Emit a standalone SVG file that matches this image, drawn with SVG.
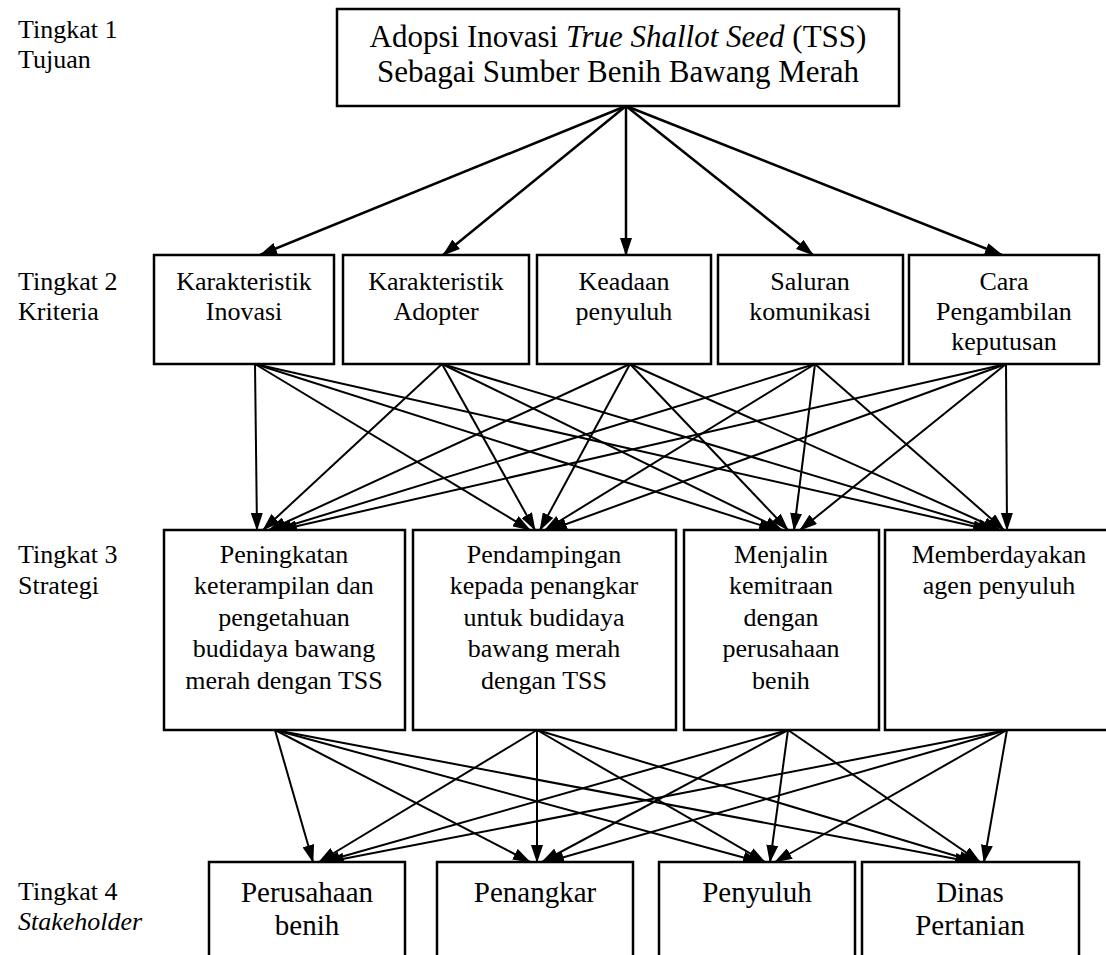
<svg xmlns="http://www.w3.org/2000/svg" width="1106" height="955" viewBox="0 0 1106 955">
<style>
.box{fill:#fff;stroke:#000;stroke-width:2.5}
.t{font-family:"Liberation Serif","Times New Roman",serif;fill:#000;text-anchor:middle}
.lbl{font-family:"Liberation Serif","Times New Roman",serif;fill:#000;font-size:26px}
.c line{stroke:#000;stroke-width:2;marker-end:url(#ah)}
.c .top{stroke-width:2.5}
</style>
<defs>
<marker id="ah" markerWidth="18" markerHeight="12" refX="17" refY="6" orient="auto" markerUnits="userSpaceOnUse">
<path d="M0,0 L18,6 L0,12 z" fill="#000"/>
</marker>
</defs>
<rect width="1106" height="955" fill="#fff"/>

<g id="labels">
<text class="lbl" x="18" y="38">Tingkat 1</text>
<text class="lbl" x="18" y="68">Tujuan</text>
<text class="lbl" x="18" y="290">Tingkat 2</text>
<text class="lbl" x="18" y="320">Kriteria</text>
<text class="lbl" x="18" y="563">Tingkat 3</text>
<text class="lbl" x="18" y="594">Strategi</text>
<text class="lbl" x="18" y="900">Tingkat 4</text>
<text class="lbl" x="18" y="930" font-style="italic">Stakeholder</text>
</g>

<g id="connectors" class="c">
<line class="top" x1="626" y1="106" x2="260" y2="255"/>
<line class="top" x1="626" y1="106" x2="443" y2="255"/>
<line class="top" x1="626" y1="106" x2="626" y2="255"/>
<line class="top" x1="626" y1="106" x2="813" y2="255"/>
<line class="top" x1="626" y1="106" x2="1002" y2="255"/>

<line x1="255" y1="364" x2="257" y2="530"/>
<line x1="442" y1="364" x2="263" y2="530"/>
<line x1="630" y1="364" x2="269" y2="530"/>
<line x1="815" y1="364" x2="275" y2="530"/>
<line x1="1006" y1="364" x2="280" y2="530"/>

<line x1="255" y1="364" x2="530" y2="530"/>
<line x1="442" y1="364" x2="535" y2="530"/>
<line x1="630" y1="364" x2="540" y2="530"/>
<line x1="815" y1="364" x2="545" y2="530"/>
<line x1="1006" y1="364" x2="550" y2="530"/>

<line x1="255" y1="364" x2="776" y2="530"/>
<line x1="442" y1="364" x2="782" y2="530"/>
<line x1="630" y1="364" x2="788" y2="530"/>
<line x1="815" y1="364" x2="794" y2="530"/>
<line x1="1006" y1="364" x2="800" y2="530"/>

<line x1="255" y1="364" x2="990" y2="530"/>
<line x1="442" y1="364" x2="995" y2="530"/>
<line x1="630" y1="364" x2="1000" y2="530"/>
<line x1="815" y1="364" x2="1004" y2="530"/>
<line x1="1006" y1="364" x2="1007" y2="530"/>

<line x1="275" y1="730" x2="313" y2="862"/>
<line x1="537" y1="730" x2="319" y2="862"/>
<line x1="788" y1="730" x2="323" y2="862"/>
<line x1="1007" y1="730" x2="327" y2="862"/>

<line x1="275" y1="730" x2="530" y2="862"/>
<line x1="537" y1="730" x2="537" y2="862"/>
<line x1="788" y1="730" x2="542" y2="862"/>
<line x1="1007" y1="730" x2="547" y2="862"/>

<line x1="275" y1="730" x2="760" y2="862"/>
<line x1="537" y1="730" x2="765" y2="862"/>
<line x1="788" y1="730" x2="770" y2="862"/>
<line x1="1007" y1="730" x2="775" y2="862"/>

<line x1="275" y1="730" x2="972" y2="862"/>
<line x1="537" y1="730" x2="976" y2="862"/>
<line x1="788" y1="730" x2="980" y2="862"/>
<line x1="1007" y1="730" x2="984" y2="862"/>
</g>

<g id="goal">
<rect class="box" x="337" y="9" width="562" height="97"/>
<text class="t" x="618" y="47" font-size="31">Adopsi Inovasi <tspan font-style="italic">True Shallot Seed</tspan> (TSS)</text>
<text class="t" x="618" y="82" font-size="31">Sebagai Sumber Benih Bawang Merah</text>
</g>

<g id="k1">
<rect class="box" x="154" y="255" width="180" height="109"/>
<text class="t" font-size="26" x="244" y="290">Karakteristik</text>
<text class="t" font-size="26" x="244" y="320">Inovasi</text>
</g>
<g id="k2">
<rect class="box" x="343" y="255" width="186" height="109"/>
<text class="t" font-size="26" x="436" y="290">Karakteristik</text>
<text class="t" font-size="26" x="436" y="320">Adopter</text>
</g>
<g id="k3">
<rect class="box" x="537" y="255" width="174" height="109"/>
<text class="t" font-size="26" x="624" y="290">Keadaan</text>
<text class="t" font-size="26" x="624" y="320">penyuluh</text>
</g>
<g id="k4">
<rect class="box" x="718" y="255" width="185" height="109"/>
<text class="t" font-size="26" x="810" y="290">Saluran</text>
<text class="t" font-size="26" x="810" y="320">komunikasi</text>
</g>
<g id="k5">
<rect class="box" x="909" y="255" width="190" height="109"/>
<text class="t" font-size="26" x="1004" y="290">Cara</text>
<text class="t" font-size="26" x="1004" y="320">Pengambilan</text>
<text class="t" font-size="26" x="1004" y="350">keputusan</text>
</g>

<g id="s1">
<rect class="box" x="164" y="530" width="241" height="200"/>
<text class="t" font-size="26" x="284" y="563">Peningkatan</text>
<text class="t" font-size="26" x="284" y="594">keterampilan dan</text>
<text class="t" font-size="26" x="284" y="626">pengetahuan</text>
<text class="t" font-size="26" x="284" y="657">budidaya bawang</text>
<text class="t" font-size="26" x="284" y="689">merah dengan TSS</text>
</g>
<g id="s2">
<rect class="box" x="413" y="530" width="263" height="200"/>
<text class="t" font-size="26" x="544" y="563">Pendampingan</text>
<text class="t" font-size="26" x="544" y="594">kepada penangkar</text>
<text class="t" font-size="26" x="544" y="626">untuk budidaya</text>
<text class="t" font-size="26" x="544" y="657">bawang merah</text>
<text class="t" font-size="26" x="544" y="689">dengan TSS</text>
</g>
<g id="s3">
<rect class="box" x="684" y="530" width="195" height="200"/>
<text class="t" font-size="26" x="781" y="563">Menjalin</text>
<text class="t" font-size="26" x="781" y="594">kemitraan</text>
<text class="t" font-size="26" x="781" y="626">dengan</text>
<text class="t" font-size="26" x="781" y="657">perusahaan</text>
<text class="t" font-size="26" x="781" y="689">benih</text>
</g>
<g id="s4">
<rect class="box" x="885" y="530" width="232" height="200"/>
<text class="t" font-size="26" x="999" y="563">Memberdayakan</text>
<text class="t" font-size="26" x="999" y="594">agen penyuluh</text>
</g>

<g id="h1">
<rect class="box" x="209" y="862" width="196" height="110"/>
<text class="t" font-size="29" x="307" y="902">Perusahaan</text>
<text class="t" font-size="29" x="307" y="935">benih</text>
</g>
<g id="h2">
<rect class="box" x="437" y="862" width="196" height="110"/>
<text class="t" font-size="29" x="535" y="902">Penangkar</text>
</g>
<g id="h3">
<rect class="box" x="659" y="862" width="196" height="110"/>
<text class="t" font-size="29" x="757" y="902">Penyuluh</text>
</g>
<g id="h4">
<rect class="box" x="862" y="862" width="217" height="110"/>
<text class="t" font-size="29" x="970" y="902">Dinas</text>
<text class="t" font-size="29" x="970" y="935">Pertanian</text>
</g>
</svg>
